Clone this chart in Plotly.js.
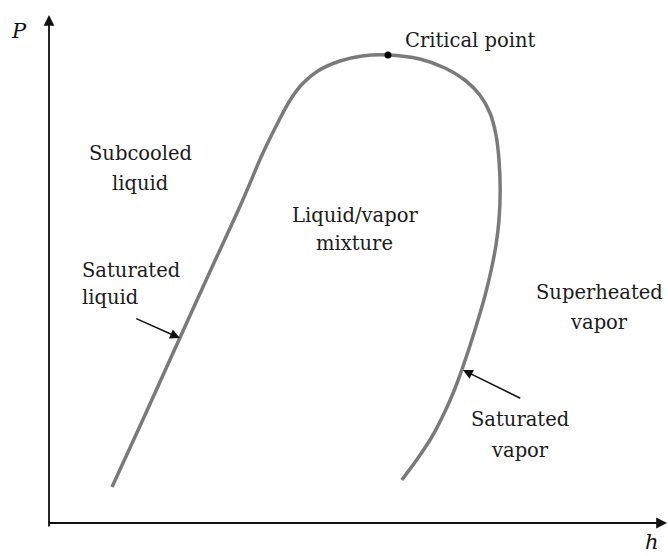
<!DOCTYPE html>
<html>
<head>
<meta charset="utf-8">
<script src="https://cdn.plot.ly/plotly-3.0.1.min.js"></script>
<style>html,body{margin:0;padding:0;background:#fff;}#chart{width:668px;height:556px;}</style>
</head>
<body>
<div id="chart"></div>
<script>
// Saturation dome (arbitrary units: enthalpy h, pressure P)
const liquidH = [10.5, 15.7, 21.8, 26.8, 32.3, 35.5, 38.2, 40.2, 42.2, 44.8, 48.5, 52.2, 56.5];
const liquidP = [7.2, 20.8, 37.0, 50.2, 64.6, 73.6, 80.2, 84.6, 87.8, 90.4, 92.4, 93.4, 93.6];
const vaporH = [56.5, 61.8, 66.0, 69.3, 71.8, 73.5, 74.5, 75.0, 75.2, 75.0, 74.5, 73.7, 72.7,
                71.5, 70.2, 68.8, 67.5, 65.8, 63.8, 61.5, 58.8];
const vaporP = [93.6, 92.8, 91.0, 88.6, 85.6, 82.0, 77.6, 72.6, 66.6, 60.6, 55.6, 50.6, 45.6,
                40.6, 35.6, 30.6, 26.4, 21.8, 17.2, 13.0, 8.6];
const criticalH = [56.5];
const criticalP = [93.6];

// Region labels: text lines and their positions
const labelText = ["Critical point", "Subcooled", "liquid", "Liquid/vapor", "mixture",
                   "Saturated", "liquid", "Superheated", "vapor", "Saturated", "vapor"];
const labelH = [70.3, 15.2, 15.2, 51.0, 51.0, 5.2, 5.2, 91.7, 91.7, 78.5, 78.5];
const labelP = [96.6, 74.0, 68.0, 61.6, 56.0, 50.6, 45.2, 46.2, 40.2, 20.8, 14.6];
const labelAnchor = ["center","center","center","center","center","left","left","center","center","center","center"];

// Pointer arrows: tip and tail
const pointerTipH = [21.8, 69.0];
const pointerTipP = [37.0, 30.6];
const pointerTailH = [14.3, 78.8];
const pointerTailP = [41.0, 24.8];

const xMax = 103.17, yMax = 104.6;
const font = "DejaVu Serif, serif";

const dome = [...liquidH.slice(0, -1), ...vaporH];
const domeP = [...liquidP.slice(0, -1), ...vaporP];

const traces = [
  {x: dome, y: domeP, type: 'scatter', mode: 'lines',
   line: {color: '#7a7a7a', width: 3.5, shape: 'spline', smoothing: 1},
   hoverinfo: 'skip', showlegend: false},
  {x: criticalH, y: criticalP, type: 'scatter', mode: 'markers',
   marker: {color: '#000', size: 7}, showlegend: false}
];

const annotations = [];
labelText.forEach((t, i) => {
  annotations.push({x: labelH[i], y: labelP[i], xref: 'x', yref: 'y', text: t,
    showarrow: false, xanchor: labelAnchor[i], yanchor: 'middle',
    font: {family: font, size: 19.5, color: '#1a1a1a'}});
});
pointerTipH.forEach((h, i) => {
  annotations.push({x: h, y: pointerTipP[i], ax: pointerTailH[i], ay: pointerTailP[i],
    xref: 'x', yref: 'y', axref: 'x', ayref: 'y', text: '', showarrow: true,
    arrowhead: 2, arrowsize: 1.3, arrowwidth: 1.5, arrowcolor: '#111'});
});
// axes with arrowheads
annotations.push({x: 0, y: 101.6, ax: 0, ay: -1, xref: 'x', yref: 'y', axref: 'x', ayref: 'y',
  text: '', showarrow: true, arrowhead: 2, arrowsize: 1.2, arrowwidth: 1.8, arrowcolor: '#111'});
annotations.push({x: 103.0, y: 0, ax: -0.3, ay: 0, xref: 'x', yref: 'y', axref: 'x', ayref: 'y',
  text: '', showarrow: true, arrowhead: 2, arrowsize: 1.2, arrowwidth: 1.8, arrowcolor: '#111'});
annotations.push({x: 19, y: 31, xref: 'paper', yref: 'paper', text: '<i>P</i>', showarrow: false,
  font: {family: font, size: 21, color: '#111'}});
annotations.push({x: 652, y: 542, xref: 'paper', yref: 'paper', text: '<i>h</i>', showarrow: false,
  font: {family: font, size: 21, color: '#111'}});

// convert the two pixel-placed labels to paper fractions
const W = 668, H = 556, ml = 49, mb = 33;
annotations.slice(-2).forEach(a => {
  a.x = (a.x - ml) / (W - ml);
  a.y = (H - mb - a.y) / (H - mb);
  a.xanchor = 'center'; a.yanchor = 'middle';
});

const layout = {
  width: W, height: H,
  margin: {l: ml, r: 0, t: 0, b: mb, pad: 0},
  paper_bgcolor: '#fff', plot_bgcolor: '#fff',
  xaxis: {range: [0, xMax], visible: false},
  yaxis: {range: [0, yMax], visible: false},
  annotations: annotations,
  showlegend: false
};

Plotly.newPlot('chart', traces, layout, {displayModeBar: false, staticPlot: true});
</script>
</body>
</html>
